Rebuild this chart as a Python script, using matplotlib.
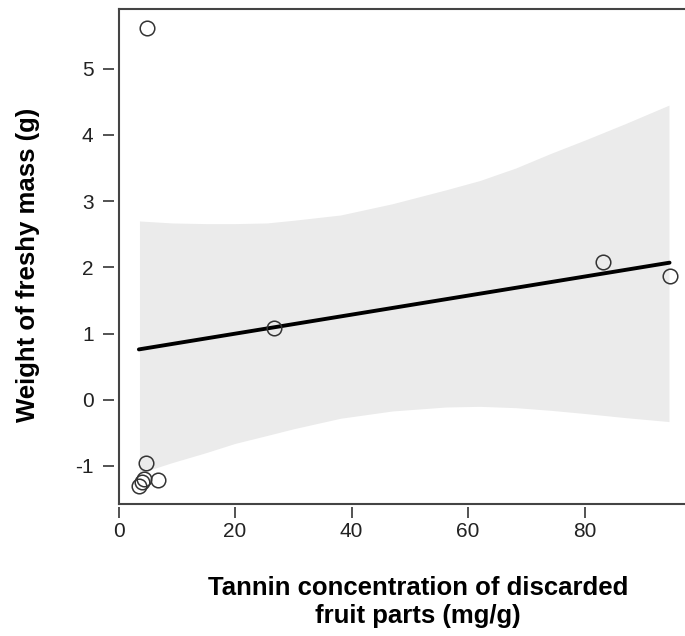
import matplotlib
matplotlib.use("Agg")
import matplotlib.pyplot as plt

# Data
pts_x = [4.8, 6.8, 4.4, 4.0, 3.6, 4.9, 26.7, 83.2, 94.6]
pts_y = [-0.96, -1.21, -1.20, -1.25, -1.30, 5.61, 1.08, 2.08, 1.87]

fit_x = [3.5, 94.6]
fit_y = [0.76, 2.07]

band_x = [3.6, 9.2, 15.0, 20.0, 25.5, 30.0, 38.1, 47.0, 56.2, 62.0, 68.2, 74.2, 80.3, 87.0, 94.5]
band_upper = [2.70, 2.67, 2.66, 2.66, 2.67, 2.71, 2.79, 2.96, 3.17, 3.31, 3.50, 3.72, 3.93, 4.17, 4.45]
band_lower = [-1.11, -0.95, -0.80, -0.66, -0.54, -0.44, -0.28, -0.17, -0.11, -0.10, -0.12, -0.16, -0.21, -0.27, -0.33]

xticks = [0, 20, 40, 60, 80]
yticks = [-1, 0, 1, 2, 3, 4, 5]

W, H = 685, 636
plt.rcParams['font.family'] = ['Liberation Sans', 'DejaVu Sans']
fig = plt.figure(figsize=(W / 100, H / 100), dpi=100)

left_px, right_px, top_px, bot_px = 118.5, 701.0, 9.3, 504.0
ax = fig.add_axes([left_px / W, 1 - bot_px / H, (right_px - left_px) / W, (bot_px - top_px) / H])
ax.set_xlim(0, 100)
ax.set_ylim(-1.575, 5.897)

ax.fill_between(band_x, band_lower, band_upper, color='#EBEBEB', linewidth=0, zorder=1)
ax.plot(fit_x, fit_y, color='black', linewidth=2.8, solid_capstyle='round', zorder=2)
ax.plot(pts_x, pts_y, linestyle='none', marker='o', markersize=10.5,
        markerfacecolor='none', markeredgecolor='#333333', markeredgewidth=1.1, zorder=3)

for s in ax.spines.values():
    s.set_visible(False)
ax.spines['bottom'].set_position(('outward', 2))
ax.spines['left'].set_position(('outward', 3))

# Box (left, top, bottom only; right edge lies outside the figure)
box_kw = dict(transform=ax.transAxes, color='#444444', linewidth=1.5, clip_on=False, zorder=5)
ax.plot([0, 0], [0, 1], **box_kw)
ax.plot([0, 1], [1, 1], **box_kw)
ax.plot([0, 1], [0, 0], **box_kw)

ax.set_xticks(xticks)
ax.set_yticks(yticks)
ax.set_xticklabels([str(t) for t in xticks])
ax.set_yticklabels([str(t) for t in yticks])
ax.tick_params(axis='both', direction='out', length=8, width=1.3, color='#444444',
               labelsize=15, labelcolor='#222222')
ax.tick_params(axis='x', pad=3)
ax.tick_params(axis='y', pad=7)

fig.text(418 / W, 1 - 602 / H, "Tannin concentration of discarded\nfruit parts (mg/g)",
         ha='center', va='center', fontsize=18.5, fontweight='bold', color='black',
         linespacing=1.25)
fig.text(28 / W, 1 - 265 / H, "Weight of freshy mass (g)", rotation=90,
         ha='center', va='center', fontsize=18.5, fontweight='bold', color='black')

fig.savefig("out.png", dpi=100)
